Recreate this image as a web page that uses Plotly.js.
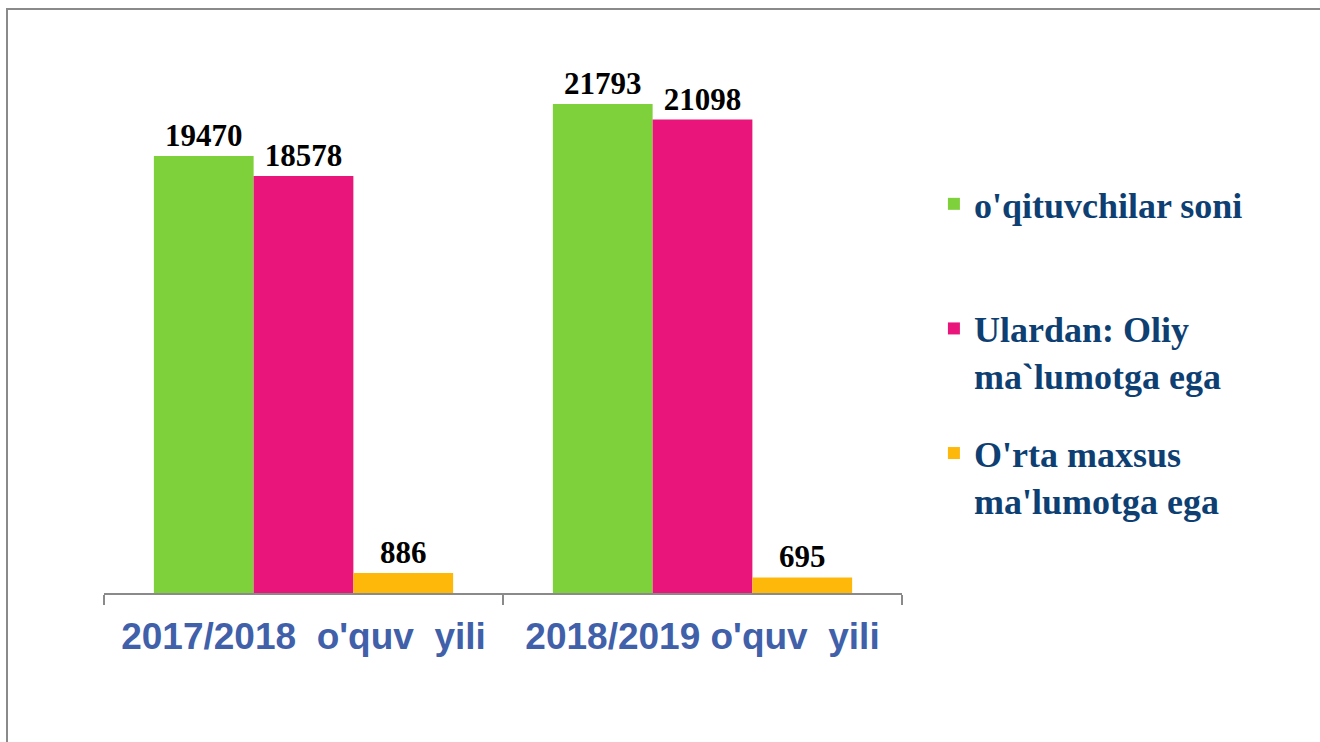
<!DOCTYPE html>
<html>
<head>
<meta charset="utf-8">
<script src="https://cdn.plot.ly/plotly-3.0.1.min.js"></script>
<style>
html,body{margin:0;padding:0;background:#fff;overflow:hidden;}
#frame{position:absolute;left:6px;top:8px;width:1400px;height:800px;border:2px solid #8a8a8a;box-sizing:border-box;pointer-events:none;z-index:5;}
#chart{position:absolute;left:0;top:0;width:1320px;height:742px;}
</style>
</head>
<body>
<div id="chart"></div>
<div id="frame"></div>
<script>
var categories = ["2017/2018\u00a0\u00a0o'quv\u00a0\u00a0yili", "2018/2019 o'quv\u00a0\u00a0yili"];
var seriesNames = ["o'qituvchilar soni<br>\u00a0", "Ulardan: Oliy<br>ma`lumotga ega", "O'rta maxsus<br>ma'lumotga ega"];
var teachers = [19470, 21793];
var higherEdu = [18578, 21098];
var secondaryEdu = [886, 695];
var colors = ["#7FD13B", "#EA157A", "#FEB80A"];

var series = [teachers, higherEdu, secondaryEdu];
var traces = series.map(function(vals, i){
  return {
    type: 'bar',
    name: seriesNames[i],
    x: categories,
    y: vals,
    text: vals.map(String),
    textposition: 'outside',
    cliponaxis: false,
    textfont: {family: 'Liberation Serif', size: 31, color: '#000', weight: 'bold'},
    marker: {color: colors[i]},
    legendgroup: 'g' + i,
    hoverinfo: 'none'
  };
});

var layout = {
  width: 1320, height: 742,
  margin: {l: 104, r: 418, t: 32, b: 149},
  paper_bgcolor: '#fff', plot_bgcolor: '#fff',
  barmode: 'group', bargap: 0.25, bargroupgap: 0,
  showlegend: true,
  legend: {
    x: 1.04, xanchor: 'left', y: 0.747, yanchor: 'top',
    font: {family: 'Liberation Serif', size: 36, color: '#0E3F73', weight: 'bold'},
    tracegroupgap: 28, valign: 'top', bgcolor: 'rgba(0,0,0,0)'
  },
  xaxis: {
    type: 'category',
    showline: true, linecolor: '#8a8a8a', linewidth: 2,
    ticks: 'outside', tickson: 'boundaries', ticklen: 10, tickcolor: '#8a8a8a', tickwidth: 2,
    ticklabelstandoff: 10,
    tickfont: {family: 'Liberation Sans', size: 37, color: '#4060AA', weight: 'bold'},
    showgrid: false, zeroline: false
  },
  yaxis: {
    range: [0, 25000], visible: false, showgrid: false, zeroline: false
  }
};

Plotly.newPlot('chart', traces, layout, {displayModeBar: false, staticPlot: true});
</script>
</body>
</html>
